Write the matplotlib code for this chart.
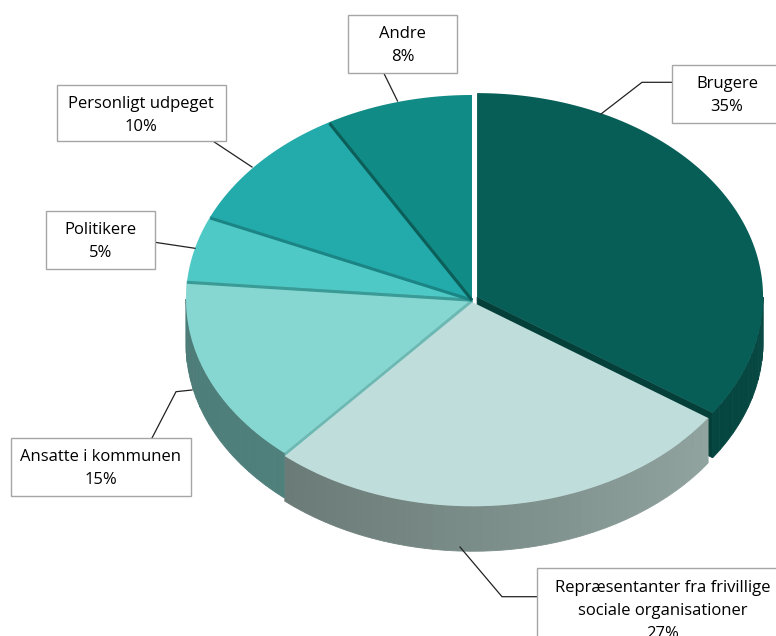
import numpy as np
import matplotlib
matplotlib.use("Agg")
import matplotlib.pyplot as plt
from matplotlib.patches import Polygon, Rectangle
from matplotlib.colors import to_rgb

# ---- data ----
categories = ["Brugere",
              "Repræsentanter fra frivillige\nsociale organisationer",
              "Ansatte i kommunen",
              "Politikere",
              "Personligt udpeget",
              "Andre"]
shares = [34.6, 26.8, 15.0, 5.2, 10.1, 8.3]

# ---- style ----
top_colors = ["#075e57", "#bfdddb", "#86d6d1", "#4fc9c5", "#23aaaa", "#108b85"]
wall_colors = [("#0a4f49", "#064641"),   # colour at start angle, end angle
               ("#90a4a0", "#6b7b77"),
               ("#4f807c", "#4d7c78"),
               ("#3a9a96", "#3a9a96"),
               ("#1a8584", "#1a8584"),
               ("#0c6661", "#0c6661")]
face_colors = ["#053f3a", "#8fa4a0", "#6cb8b3", "#3a9a96", "#1a8584", "#0c5e59"]
explode = [0.02, 0.016, 0, 0, 0, 0]

# label boxes: (left, top, width, height, text centre x)
label_boxes = [(672, 65, 112, 57.7, 727),
               (537, 568.3, 250, 90, 662.5),
               (11, 438, 180, 57.7, 101),
               (46, 210.7, 109, 58, 100.5),
               (57, 85, 169, 56, 141),
               (348.3, 15, 108.4, 57.7, 402.5)]
leaders = [[(672, 82.3), (642, 82.3), (601, 114)],
           [(537, 596.7), (502, 596.7), (460, 547)],
           [(152, 438), (176, 391.7), (192, 390)],
           [(155, 242.3), (195, 248.3)],
           [(212, 140.5), (252, 167)],
           [(384, 73.5), (397.5, 101)]]

CX, CY, RX, RY, DEPTH = 472, 299, 286, 204, 45

fig = plt.figure(figsize=(7.76, 6.36), dpi=100)
ax = fig.add_axes([0, 0, 1, 1])
ax.set_xlim(0, 776)
ax.set_ylim(636, 0)
ax.axis("off")


def pt(a, dx, dy, r=1.0, z=0.0):
    t = np.radians(a)
    return (CX + dx + RX * r * np.sin(t), CY + dy - RY * r * np.cos(t) + z)


def mix(c1, c2, t):
    a, b = np.array(to_rgb(c1)), np.array(to_rgb(c2))
    return tuple(a + (b - a) * t)


total = float(sum(shares))
bounds = np.concatenate([[0], np.cumsum(shares)]) / total * 360.0
offs = []
for i in range(len(shares)):
    a0, a1 = bounds[i], bounds[i + 1]
    m = np.radians((a0 + a1) / 2)
    offs.append((explode[i] * RX * np.sin(m), -explode[i] * RY * np.cos(m)))

# 1) cut faces facing the viewer, back to front
faces = []
for i in range(len(shares)):
    a0, a1 = bounds[i], bounds[i + 1]
    dx, dy = offs[i]
    for a, normal in ((a0, a0 - 90), (a1, a1 + 90)):
        if np.cos(np.radians(normal)) < -1e-6:
            poly = [pt(a, dx, dy, 0), pt(a, dx, dy, 1),
                    pt(a, dx, dy, 1, DEPTH), pt(a, dx, dy, 0, DEPTH)]
            depth_key = pt(a, dx, dy, 0.5)[1]
            faces.append((depth_key, poly, face_colors[i]))
for _, poly, col in sorted(faces, key=lambda f: f[0]):
    ax.add_patch(Polygon(poly, closed=True, facecolor=col,
                         edgecolor=col, lw=0.5, zorder=1))

# 2) outer walls (front half only)
for i in range(len(shares)):
    a0, a1 = bounds[i], bounds[i + 1]
    dx, dy = offs[i]
    lo, hi = max(a0, 90), min(a1, 270)
    if hi <= lo:
        continue
    n = max(2, int((hi - lo) / 2.5))
    edges = np.linspace(lo, hi, n + 1)
    for k in range(n):
        s, e = edges[k], edges[k + 1]
        arc = np.linspace(s, e, 6)
        top = [pt(a, dx, dy) for a in arc]
        bot = [pt(a, dx, dy, 1, DEPTH) for a in arc[::-1]]
        t = ((s + e) / 2 - a0) / (a1 - a0)
        col = mix(wall_colors[i][0], wall_colors[i][1], t)
        ax.add_patch(Polygon(top + bot, closed=True, facecolor=col,
                             edgecolor=col, lw=0.6, zorder=2))

# 3) top surfaces
for i in range(len(shares)):
    a0, a1 = bounds[i], bounds[i + 1]
    dx, dy = offs[i]
    arc = np.linspace(a0, a1, 200)
    poly = [pt(0, dx, dy, 0)] + [pt(a, dx, dy) for a in arc]
    ax.add_patch(Polygon(poly, closed=True, facecolor=top_colors[i],
                         edgecolor="none", zorder=3))

# 4) thin visible cut edges between touching slices
for i in range(2, len(shares)):
    a0 = bounds[i]
    if explode[i] == 0 and explode[i - 1] == 0:
        dx, dy = offs[i]
        p0 = pt(a0, dx, dy, 0, 1.2)
        p1 = pt(a0, dx, dy, 1, 1.2)
        ax.plot([p0[0], p1[0]], [p0[1], p1[1]], color=face_colors[i],
                lw=2.2, solid_capstyle="butt", zorder=4)

# 5) labels
FONT = ["Open Sans", "DejaVu Sans"]
for i, cat in enumerate(categories):
    x0, y0, w, h, tx = label_boxes[i]
    ax.add_patch(Rectangle((x0, y0), w, h, facecolor="white",
                           edgecolor="#a6a6a6", lw=1.0, zorder=6))
    lines = cat.split("\n") + [f"{round(shares[i])}%"]
    for j, line in enumerate(lines):
        ax.text(tx, y0 + 23.3 + 23.1 * j, line, ha="center", va="baseline",
                fontsize=12, family=FONT, color="#000000", zorder=7)
    xs, ys = zip(*leaders[i])
    ax.plot(xs, ys, color="#222222", lw=0.9, zorder=5)

fig.savefig("out.png", dpi=100)
